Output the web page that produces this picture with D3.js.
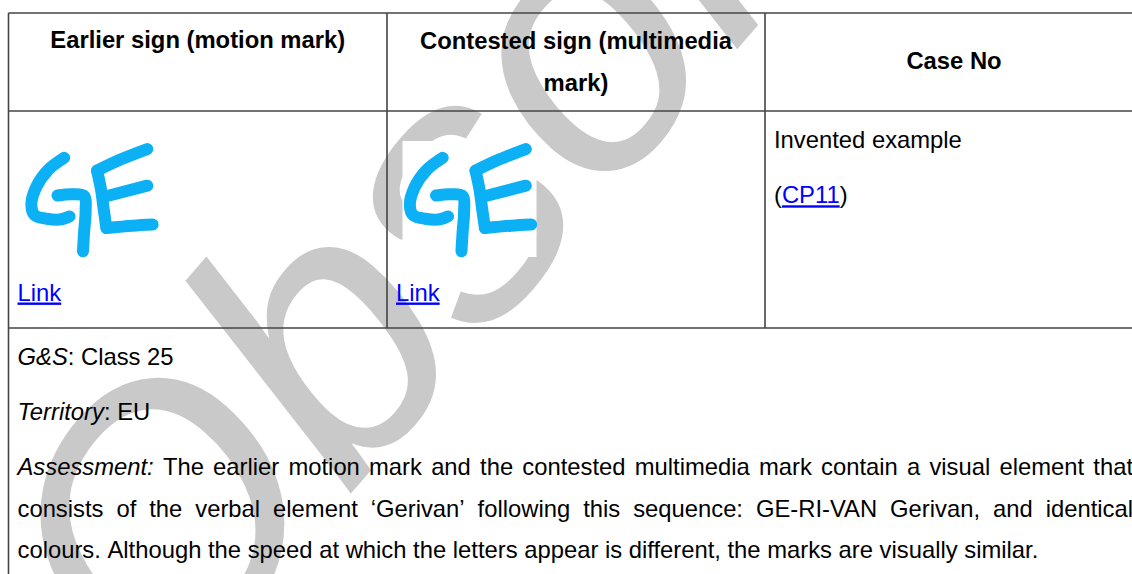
<!DOCTYPE html>
<html><head><meta charset="utf-8">
<script src="https://cdn.jsdelivr.net/npm/d3@7"></script>
<style>html,body{margin:0;padding:0;background:#fff;overflow:hidden}svg{display:block}</style>
</head><body>
<svg id="c" width="1132" height="574"></svg>
<script>
// ---------- content ----------
const headerLines = [["Earlier sign (motion mark)"], ["Contested sign (multimedia", "mark)"], ["Case No"]];
const linkLabels = ["Link", "Link"];
const caseText = "Invented example";
const caseRef = "CP11";
const gsLabel = "G&S", gsValue = ": Class 25";
const territoryLabel = "Territory", territoryValue = ": EU";
const assessmentLabel = "Assessment:";
const assessmentLines = [
  "The earlier motion mark and the contested multimedia mark contain a visual element that",
  "consists of the verbal element \u2018Gerivan\u2019 following this sequence: GE-RI-VAN Gerivan, and identical",
  "colours. Although the speed at which the letters appear is different, the marks are visually similar."
];
const watermarkText = "Obsolete";
// hand-drawn "GE" sign, strokes in a 0-100 unit box
const geStrokes = [
  [[30,14.5],[18,25],[9,40],[5.5,55],[8,64],[17,67],[28,67.5],[34,65]],
  [[25,47],[36,46],[45,47.5],[46,60],[44.8,79.5],[44,95]],
  [[54.5,25.5],[57.5,42],[59.5,59],[61.5,75]],
  [[54.5,25.5],[72,16],[92,7]],
  [[63.5,47],[92,38.5]],
  [[61.5,75],[81,73],[96,72]]
];

// ---------- layout ----------
const W = 1132, H = 574;
const colEdges = [8.5, 387, 765, 1143];
const rowEdges = [13, 111, 328, 620];
const FONT = "'Liberation Sans', Arial, sans-serif";
const FS = 23.8;
const pad = 9;
const lineGap = 41.5, paraGap = 55;
const lineColor = "#444";
const linkColor = "#0000ff";
const geColor = "#0cb0f4";

const svg = d3.select("#c");
svg.append("rect").attr("width", W).attr("height", H).attr("fill", "#fff");

// watermark
svg.append("text")
  .attr("transform", "translate(161,712) rotate(-49)")
  .attr("font-family", FONT).attr("font-style", "italic")
  .attr("font-size", 365).attr("fill", "#c9c9c9")
  .text(watermarkText);

const colCenter = i => (colEdges[i] + colEdges[i + 1]) / 2;

// header
const headerBase = [[48.3], [49, 90.7], [69]];
const hdr = svg.append("g").attr("font-family", FONT).attr("font-weight", "bold").attr("font-size", FS).attr("text-anchor", "middle").attr("fill", "#000");
headerLines.forEach((lines, i) => {
  lines.forEach((t, j) => {
    hdr.append("text").attr("x", colCenter(i)).attr("y", headerBase[i][j]).text(t);
  });
});

// images (GE sign) + links
const imgW = 134, imgH = 116, imgTop = 141;
[0, 1].forEach(i => {
  const x0 = colEdges[i] + 15.5;
  const sx = d3.scaleLinear().domain([0, 100]).range([x0, x0 + imgW]);
  const sy = d3.scaleLinear().domain([0, 100]).range([imgTop, imgTop + imgH]);
  const line = d3.line().x(d => sx(d[0])).y(d => sy(d[1])).curve(d3.curveCatmullRom);
  svg.append("rect").attr("x", x0).attr("y", imgTop).attr("width", imgW).attr("height", imgH).attr("fill", "#fff");
  svg.append("g").selectAll("path").data(geStrokes).join("path")
    .attr("d", line).attr("fill", "none").attr("stroke", geColor)
    .attr("stroke-width", 12).attr("stroke-linecap", "round").attr("stroke-linejoin", "round");
  svg.append("text").attr("x", colEdges[i] + pad).attr("y", 300.5)
    .attr("font-family", FONT).attr("font-size", FS).attr("fill", linkColor)
    .attr("text-decoration", "underline").text(linkLabels[i]);
});

// case column
const cx = colEdges[2] + pad;
svg.append("text").attr("x", cx).attr("y", 148.3).attr("font-family", FONT).attr("font-size", FS).text(caseText);
const cp = svg.append("text").attr("x", cx).attr("y", 148.3 + paraGap).attr("font-family", FONT).attr("font-size", FS);
cp.append("tspan").text("(");
cp.append("tspan").attr("fill", linkColor).attr("text-decoration", "underline").text(caseRef);
cp.append("tspan").text(")");

// bottom section
const bx = colEdges[0] + pad;
const b0 = rowEdges[2] + 37;
const t1 = svg.append("text").attr("x", bx).attr("y", b0).attr("font-family", FONT).attr("font-size", FS);
t1.append("tspan").attr("font-style", "italic").text(gsLabel);
t1.append("tspan").text(gsValue);
const t2 = svg.append("text").attr("x", bx).attr("y", b0 + paraGap).attr("font-family", FONT).attr("font-size", FS);
t2.append("tspan").attr("font-style", "italic").text(territoryLabel);
t2.append("tspan").text(territoryValue);

const rightEdge = 1133;
const aY = b0 + 2 * paraGap;
function justify(words, y, justifyIt) {
  const g = svg.append("g").attr("font-family", FONT).attr("font-size", FS);
  const nodes = words.map(w => g.append("text").attr("y", y).attr("font-style", w.italic ? "italic" : null).text(w.t));
  const widths = nodes.map(n => n.node().getComputedTextLength());
  const s = g.append("text").text("a a"), a = g.append("text").text("aa");
  const spaceW = s.node().getComputedTextLength() - a.node().getComputedTextLength();
  s.remove(); a.remove();
  const total = d3.sum(widths);
  const gap = justifyIt ? (rightEdge - bx - total) / (words.length - 1) : spaceW;
  let x = bx;
  nodes.forEach((n, i) => { n.attr("x", x); x += widths[i] + gap; });
}
const line1 = [{t: assessmentLabel, italic: true}].concat(assessmentLines[0].split(" ").map(t => ({t})));
justify(line1, aY, true);
justify(assessmentLines[1].split(" ").map(t => ({t})), aY + lineGap, true);
justify(assessmentLines[2].split(" ").map(t => ({t})), aY + 2 * lineGap, false);

// table grid
const grid = svg.append("g").attr("stroke", lineColor).attr("stroke-width", 1.6).attr("fill", "none");
[0, 1, 2].forEach(r => grid.append("line").attr("x1", colEdges[0]).attr("x2", colEdges[3]).attr("y1", rowEdges[r]).attr("y2", rowEdges[r]));
grid.append("line").attr("x1", colEdges[0]).attr("x2", colEdges[0]).attr("y1", rowEdges[0]).attr("y2", rowEdges[3]);
[1, 2].forEach(c => grid.append("line").attr("x1", colEdges[c]).attr("x2", colEdges[c]).attr("y1", rowEdges[0]).attr("y2", rowEdges[2]));
</script>
</body></html>
